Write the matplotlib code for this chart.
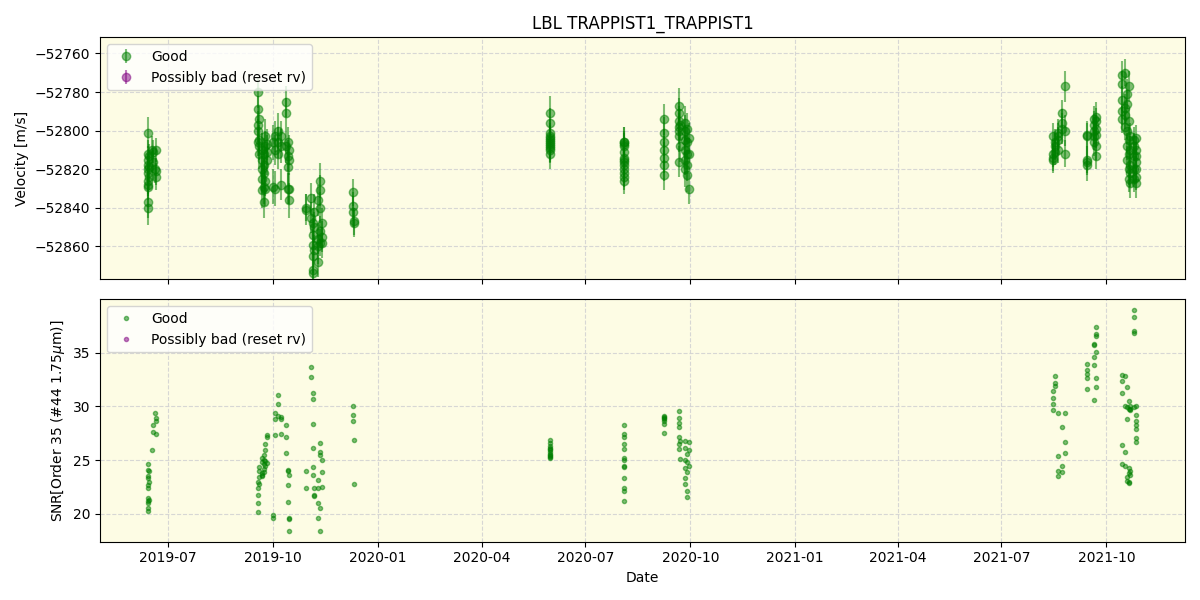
# -*- coding: utf-8 -*-
"""LBL radial velocity + SNR time series for TRAPPIST1."""
import matplotlib

matplotlib.use("Agg")
import matplotlib.dates as mdates
import matplotlib.pyplot as plt
import numpy as np

TITLE = "LBL TRAPPIST1_TRAPPIST1"

dates = [
    # Jun 2019
    "2019-06-13", "2019-06-13", "2019-06-13", "2019-06-13", "2019-06-13", "2019-06-13",
    "2019-06-13", "2019-06-13", "2019-06-13", "2019-06-13", "2019-06-13",
    "2019-06-14", "2019-06-14", "2019-06-14",
    "2019-06-17", "2019-06-18", "2019-06-18", "2019-06-19", "2019-06-20", "2019-06-20", "2019-06-20",
    # Sep / Oct 2019
    "2019-09-18", "2019-09-18", "2019-09-18", "2019-09-18", "2019-09-18",
    "2019-09-19", "2019-09-19", "2019-09-19", "2019-09-19",
    "2019-09-21", "2019-09-21", "2019-09-21", "2019-09-21", "2019-09-21",
    "2019-09-23", "2019-09-23", "2019-09-23", "2019-09-23", "2019-09-23",
    "2019-09-24", "2019-09-24", "2019-09-24", "2019-09-24",
    "2019-09-26", "2019-09-26", "2019-09-26",
    "2019-10-01", "2019-10-01",
    "2019-10-03", "2019-10-03", "2019-10-03",
    "2019-10-05", "2019-10-05", "2019-10-05",
    "2019-10-08", "2019-10-08", "2019-10-08",
    "2019-10-12", "2019-10-12", "2019-10-12",
    "2019-10-14", "2019-10-14", "2019-10-14", "2019-10-14",
    "2019-10-15", "2019-10-15", "2019-10-15", "2019-10-15",
    # Nov 2019
    "2019-10-30", "2019-10-30",
    "2019-11-03", "2019-11-03",
    "2019-11-05", "2019-11-05", "2019-11-05", "2019-11-05", "2019-11-05", "2019-11-05",
    "2019-11-06", "2019-11-06", "2019-11-06",
    "2019-11-09", "2019-11-09", "2019-11-09", "2019-11-09",
    "2019-11-11", "2019-11-11", "2019-11-11", "2019-11-11", "2019-11-11",
    "2019-11-13", "2019-11-13", "2019-11-13",
    # Dec 2019
    "2019-12-10", "2019-12-10", "2019-12-10", "2019-12-11", "2019-12-11",
    # May 2020
    "2020-05-31", "2020-05-31", "2020-05-31", "2020-05-31", "2020-05-31", "2020-05-31",
    "2020-05-31", "2020-05-31", "2020-05-31", "2020-05-31", "2020-05-31", "2020-05-31",
    # Aug 2020
    "2020-08-04", "2020-08-04", "2020-08-04", "2020-08-04", "2020-08-04", "2020-08-04", "2020-08-04",
    "2020-08-04", "2020-08-04", "2020-08-04", "2020-08-04", "2020-08-04", "2020-08-04",
    # Sep 2020
    "2020-09-08", "2020-09-08", "2020-09-08", "2020-09-08", "2020-09-08", "2020-09-08", "2020-09-08",
    "2020-09-21", "2020-09-21", "2020-09-21", "2020-09-21", "2020-09-21", "2020-09-21", "2020-09-21",
    "2020-09-22", "2020-09-22",
    "2020-09-26", "2020-09-26", "2020-09-26", "2020-09-26", "2020-09-26", "2020-09-26",
    "2020-09-28", "2020-09-28", "2020-09-28", "2020-09-28", "2020-09-28",
    "2020-09-30", "2020-09-30", "2020-09-30",
    # Aug 2021
    "2021-08-15", "2021-08-15", "2021-08-15", "2021-08-15",
    "2021-08-17", "2021-08-17", "2021-08-17",
    "2021-08-20", "2021-08-20", "2021-08-20", "2021-08-20",
    "2021-08-23", "2021-08-23", "2021-08-23",
    "2021-08-26", "2021-08-26", "2021-08-26",
    # Sep 2021
    "2021-09-14", "2021-09-14", "2021-09-14", "2021-09-14", "2021-09-14",
    "2021-09-20", "2021-09-20", "2021-09-20", "2021-09-20", "2021-09-20",
    "2021-09-22", "2021-09-22", "2021-09-22", "2021-09-22", "2021-09-22", "2021-09-22",
    # Oct 2021
    "2021-10-15", "2021-10-15", "2021-10-15", "2021-10-15", "2021-10-15",
    "2021-10-17", "2021-10-17", "2021-10-17", "2021-10-17",
    "2021-10-19", "2021-10-19", "2021-10-19", "2021-10-19", "2021-10-19",
    "2021-10-21", "2021-10-21", "2021-10-21", "2021-10-21", "2021-10-21", "2021-10-21",
    "2021-10-22", "2021-10-22", "2021-10-22", "2021-10-22", "2021-10-22",
    "2021-10-25", "2021-10-25", "2021-10-25", "2021-10-25", "2021-10-25",
    "2021-10-27", "2021-10-27", "2021-10-27", "2021-10-27", "2021-10-27", "2021-10-27", "2021-10-27",
]

rv = [
    -52801, -52812, -52815, -52818, -52820, -52822, -52826, -52828, -52837, -52840, -52829,
    -52813, -52819, -52824,
    -52810, -52811, -52816, -52820, -52824, -52810, -52821,
    -52780, -52789, -52797, -52800, -52806,
    -52794, -52805, -52808, -52812,
    -52810, -52815, -52820, -52825, -52831,
    -52812, -52818, -52822, -52829, -52837,
    -52803, -52808, -52826, -52830,
    -52807, -52811, -52815,
    -52806, -52829,
    -52803, -52810, -52830,
    -52800, -52806, -52812,
    -52803, -52808, -52828,
    -52785, -52791, -52808,
    -52806, -52813, -52819, -52830,
    -52810, -52836, -52815, -52830,
    -52840, -52841,
    -52835, -52845,
    -52848, -52854, -52859, -52865, -52872, -52874,
    -52850, -52842, -52862,
    -52836, -52856, -52860, -52868,
    -52826, -52831, -52840, -52852, -52858,
    -52848, -52858, -52855,
    -52832, -52839, -52842, -52847, -52848,
    -52791, -52796, -52801, -52803, -52804, -52805, -52806, -52807, -52808, -52809, -52810, -52812,
    -52806, -52807, -52808, -52811, -52814, -52816, -52818, -52820, -52822, -52824, -52826, -52806, -52815,
    -52794, -52801, -52806, -52810, -52814, -52818, -52823,
    -52787, -52791, -52795, -52798, -52800, -52803, -52816,
    -52797, -52808,
    -52796, -52800, -52805, -52810, -52815, -52820,
    -52799, -52806, -52812, -52818, -52823,
    -52804, -52812, -52830,
    -52803, -52812, -52815, -52814,
    -52808, -52811, -52806,
    -52801, -52805, -52810, -52803,
    -52791, -52796, -52799,
    -52777, -52812, -52800,
    -52802, -52815, -52818, -52803, -52816,
    -52794, -52797, -52800, -52803, -52806,
    -52793, -52799, -52808, -52813, -52802, -52795,
    -52771, -52776, -52784, -52790, -52794,
    -52770, -52788, -52792, -52798,
    -52781, -52786, -52800, -52808, -52815,
    -52777, -52795, -52805, -52812, -52820, -52825,
    -52803, -52810, -52818, -52827, -52822,
    -52805, -52813, -52820, -52825, -52808,
    -52804, -52810, -52816, -52820, -52824, -52827, -52813,
]

rv_err = [
    8, 7, 7, 6, 7, 6, 7, 6, 8, 9, 7,
    6, 7, 7,
    7, 6, 6, 7, 7, 6, 7,
    8, 7, 7, 6, 7,
    7, 8, 7, 8,
    9, 8, 7, 8, 9,
    8, 7, 8, 9, 8,
    9, 8, 8, 9,
    8, 9, 8,
    9, 9,
    8, 8, 9,
    9, 8, 8,
    8, 9, 8,
    8, 8, 9,
    8, 8, 9, 8,
    8, 9, 8, 8,
    7, 8,
    8, 8,
    8, 9, 8, 9, 8, 7,
    8, 9, 8,
    8, 8, 9, 8,
    9, 8, 8, 8, 7,
    8, 8, 8,
    7, 7, 8, 7, 7,
    9, 8, 7, 7, 7, 7, 7, 7, 7, 7, 7, 8,
    8, 7, 7, 7, 7, 7, 7, 7, 7, 7, 7, 8, 7,
    8, 8, 7, 7, 8, 8, 8,
    9, 8, 8, 7, 7, 8, 8,
    8, 8,
    9, 8, 8, 8, 8, 9,
    8, 8, 8, 8, 9,
    8, 8, 8,
    7, 7, 7, 7,
    7, 7, 7,
    7, 7, 7, 7,
    7, 7, 8,
    8, 7, 8,
    7, 7, 8, 7, 7,
    7, 7, 7, 7, 7,
    8, 7, 7, 7, 7, 7,
    7, 7, 7, 7, 7,
    7, 7, 7, 7,
    8, 7, 7, 7, 7,
    8, 7, 7, 7, 8, 7,
    7, 7, 7, 8, 7,
    7, 7, 7, 7, 7,
    7, 7, 7, 7, 7, 8, 7,
]

snr = [
    24.6, 24.1, 23.5, 23.3, 22.7, 22.4, 21.5, 21.2, 21.0, 20.6, 20.3,
    24.0, 23.0, 21.3,
    25.9, 28.3, 27.6, 29.4, 28.9, 28.6, 27.4,
    22.4, 21.8, 21.0, 20.2, 23.0,
    24.0, 23.4, 22.8, 24.4,
    24.8, 25.2, 23.8, 23.5, 23.6,
    25.5, 25.0, 24.6, 24.2, 23.9,
    26.5, 25.9, 24.5, 24.9,
    27.2, 27.3, 24.7,
    19.9, 19.6,
    27.3, 29.4, 28.8,
    31.1, 30.2, 29.1,
    29.0, 28.8, 27.4,
    28.3, 27.2, 25.7,
    24.1, 24.0, 22.7, 21.1,
    23.6, 19.6, 19.5, 18.4,
    24.0, 22.4,
    33.7, 32.7,
    31.2, 30.7, 28.4, 26.1, 24.4, 23.6,
    21.8, 22.4, 21.7,
    23.2, 22.4, 21.0, 19.6,
    18.4, 26.6, 25.8, 25.5, 20.6,
    25.0, 23.9, 22.5,
    30.0, 29.2, 28.6, 26.9, 22.8,
    26.9, 26.6, 26.3, 26.1, 25.9, 25.8, 25.6, 25.5, 25.4, 25.3, 25.2, 26.0,
    28.3, 27.4, 27.2, 26.5, 26.0, 25.2, 25.0, 24.4, 24.5, 23.3, 22.4, 22.1, 21.2,
    29.1, 28.8, 28.6, 28.4, 28.9, 27.5, 29.0,
    29.6, 28.9, 28.5, 28.1, 27.2, 26.5, 26.0,
    25.1, 26.8,
    26.8, 26.1, 25.0, 24.3, 23.3, 22.8,
    25.6, 24.8, 23.9, 22.1, 21.6,
    25.9, 24.5, 26.7,
    31.4, 30.8, 30.2, 29.7,
    32.8, 32.2, 31.9,
    29.4, 25.4, 24.0, 23.5,
    28.1, 24.5, 23.9,
    29.4, 26.7, 25.7,
    33.9, 33.4, 32.6, 33.0, 31.6,
    35.8, 35.7, 34.6, 33.8, 30.6,
    37.4, 36.7, 36.5, 35.1, 31.8, 32.6,
    32.9, 32.4, 31.2, 26.4, 24.6,
    32.8, 30.0, 24.5, 25.8,
    31.8, 29.9, 28.8, 23.1, 23.4,
    30.5, 29.8, 24.3, 23.8, 23.0, 22.9,
    29.7, 30.0, 29.8, 24.0, 23.6,
    39.0, 38.3, 37.0, 36.8, 29.9,
    30.0, 29.2, 28.3, 27.9, 27.1, 26.7, 28.6,
]

# no points were flagged as bad in this run
bad_dates = []
bad_rv = []
bad_rv_err = []
bad_snr = []


def main():
    t = np.array(dates, dtype="datetime64[D]")
    tb = np.array(bad_dates, dtype="datetime64[D]")

    fig, (ax1, ax2) = plt.subplots(2, 1, figsize=(12, 6), dpi=100, sharex=True)
    bg = "#fdfce4"

    ax1.errorbar(t, rv, yerr=rv_err, fmt="o", color="green", alpha=0.5, label="Good")
    ax1.errorbar(tb, bad_rv, yerr=bad_rv_err, fmt="o", color="purple", alpha=0.5,
                 label="Possibly bad (reset rv)")
    ax1.set_ylabel("Velocity [m/s]")
    ax1.set_title(TITLE)
    ax1.set_ylim(-52877.1, -52751.5)
    ax1.legend(loc="upper left")

    ax2.plot(t, snr, "o", color="green", alpha=0.5, markersize=3, label="Good")
    ax2.plot(tb, bad_snr, "o", color="purple", alpha=0.5, markersize=3,
             label="Possibly bad (reset rv)")
    ax2.set_ylabel("SNR[Order 35 (#44 1.75$\\mu$m)]")
    ax2.set_xlabel("Date")
    ax2.set_ylim(17.42, 39.95)
    ax2.legend(loc="upper left")

    for ax in (ax1, ax2):
        ax.set_facecolor(bg)
        ax.grid(True, linestyle="--", color="lightgray", alpha=0.9)

    ax2.set_xlim(np.datetime64("2019-05-02"), np.datetime64("2021-12-09"))
    ax2.xaxis.set_major_locator(mdates.MonthLocator(bymonth=[1, 4, 7, 10]))
    ax2.xaxis.set_major_formatter(mdates.DateFormatter("%Y-%m"))

    plt.tight_layout()
    plt.savefig("out.png")
    plt.close()


if __name__ == "__main__":
    main()
